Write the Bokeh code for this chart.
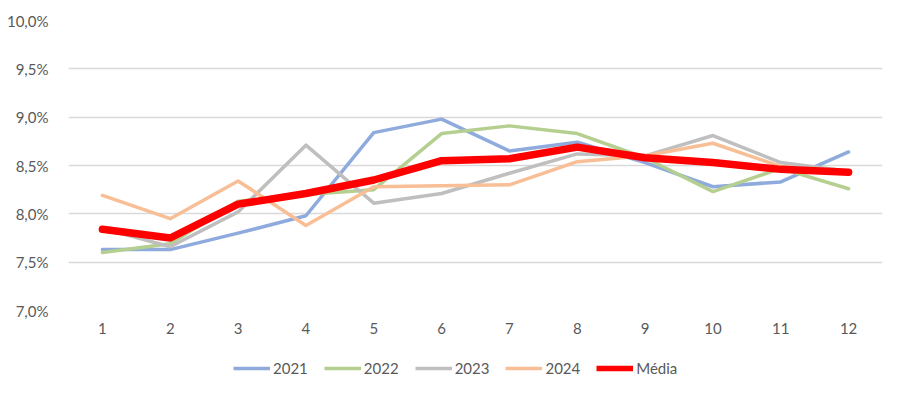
from bokeh.plotting import figure
from bokeh.layouts import column
from bokeh.models import Range1d, Legend, LegendItem, CustomJSTickFormatter, FixedTicker
from bokeh.embed import file_html
from bokeh.resources import INLINE

months = [1, 2, 3, 4, 5, 6, 7, 8, 9, 10, 11, 12]
y2021 = [7.63, 7.63, 7.80, 7.98, 8.84, 8.98, 8.65, 8.74, 8.53, 8.28, 8.33, 8.64]
y2022 = [7.60, 7.69, 8.13, 8.20, 8.25, 8.83, 8.91, 8.83, 8.58, 8.23, 8.47, 8.26]
y2023 = [7.85, 7.66, 8.02, 8.71, 8.11, 8.21, 8.42, 8.62, 8.60, 8.81, 8.53, 8.44]
y2024 = [8.19, 7.95, 8.34, 7.88, 8.28, 8.29, 8.30, 8.54, 8.60, 8.73, 8.49, 8.42]
media = [7.84, 7.75, 8.10, 8.21, 8.35, 8.55, 8.57, 8.69, 8.58, 8.53, 8.46, 8.43]
y_ticks = [7.0, 7.5, 8.0, 8.5, 9.0, 9.5, 10.0]

FONT = "Lato"
TXT = "#595959"

p = figure(width=887, height=340, output_backend="svg", toolbar_location=None,
           x_range=Range1d(0.5, 12.5), y_range=Range1d(7.0, 10.0),
           min_border_left=68, min_border_right=5, min_border_top=20, min_border_bottom=30,
           background_fill_color="white", border_fill_color="white")
p.outline_line_color = None

series = [("2021", y2021, "#8FAADC", 3.5), ("2022", y2022, "#B4CF8F", 3.5),
          ("2023", y2023, "#BFBFBF", 3.5), ("2024", y2024, "#F8BE95", 3.5),
          ("Média", media, "#FF0000", 7.5)]
for name, ys, col, lw in series:
    p.line(months, ys, line_color=col, line_width=lw, line_join="round", line_cap="round")

p.xaxis.ticker = FixedTicker(ticks=months)
p.yaxis.ticker = FixedTicker(ticks=y_ticks)
p.yaxis.formatter = CustomJSTickFormatter(code="return tick.toFixed(1).replace('.', ',') + '%';")
for ax in (p.xaxis[0], p.yaxis[0]):
    ax.axis_line_color = None
    ax.major_tick_line_color = None
    ax.minor_tick_line_color = None
    ax.major_label_text_font = FONT
    ax.major_label_text_font_size = "15px"
    ax.major_label_text_color = TXT
p.xaxis.major_label_standoff = 6
p.yaxis.major_label_standoff = 14

p.xgrid.grid_line_color = None
p.ygrid.grid_line_color = "#D9D9D9"
p.ygrid.grid_line_width = 1.3

# legend-only figure below the chart (series drawn out of view, only the legend shows)
lg = figure(width=887, height=47, output_backend="svg", toolbar_location=None,
            x_axis_type=None, y_axis_type=None,
            x_range=Range1d(100, 101), y_range=Range1d(100, 101),
            min_border_left=0, min_border_right=0, min_border_top=0, min_border_bottom=0,
            background_fill_color="white", border_fill_color="white")
lg.outline_line_color = None
items = []
for name, ys, col, lw in series:
    r = lg.line(months, ys, line_color=col, line_width=min(lw, 5.5))
    items.append(LegendItem(label=name, renderers=[r]))
legend = Legend(items=items, orientation="horizontal", location=(165, 9),
                label_text_font=FONT, label_text_font_size="15px", label_text_color=TXT,
                glyph_width=37, label_standoff=3, spacing=16, padding=4, margin=0,
                border_line_color=None, background_fill_alpha=0)
lg.add_layout(legend)

layout = column(p, lg, spacing=0)
open("out.html", "w").write(file_html(layout, INLINE))
